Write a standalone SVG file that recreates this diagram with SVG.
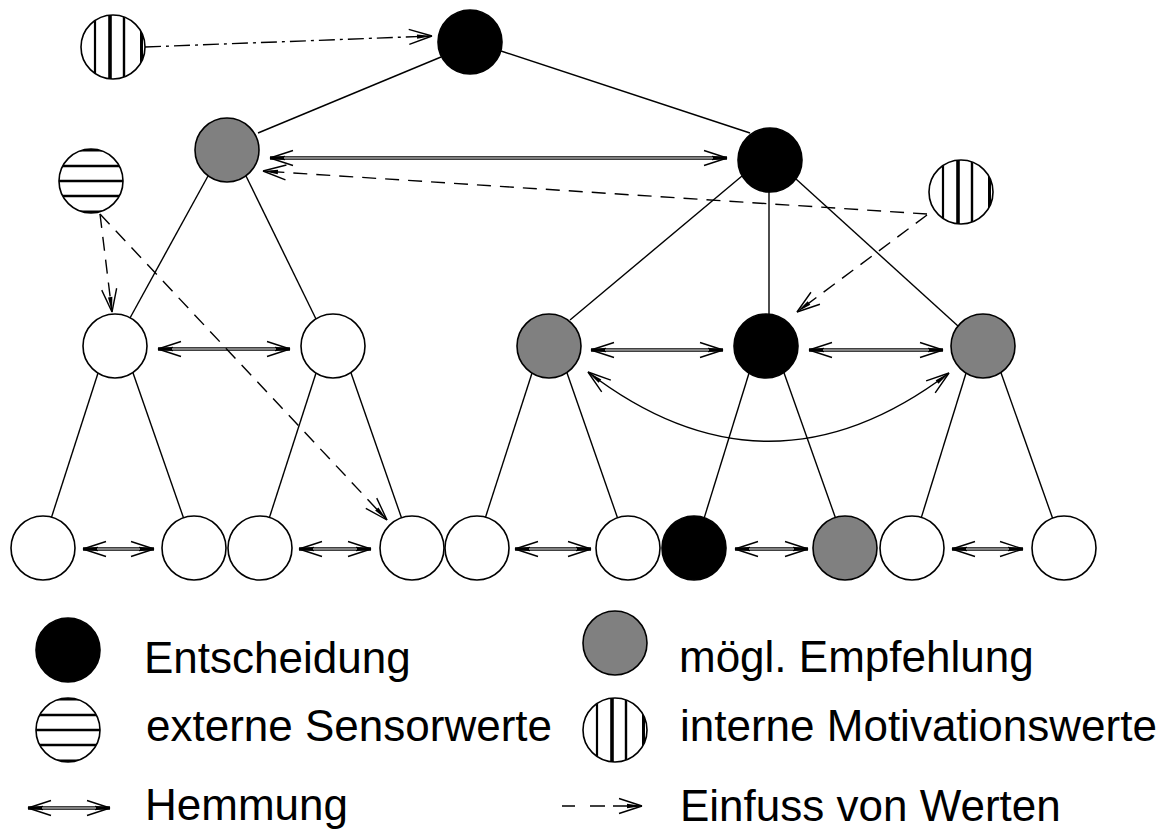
<svg xmlns="http://www.w3.org/2000/svg" xmlns:xlink="http://www.w3.org/1999/xlink" width="1168" height="832" viewBox="0 0 1168 832">
  <style>
    .edge{stroke:#000;stroke-width:1.4;fill:none}
    .node{stroke:#000;stroke-width:1.6}
    .white{fill:#fff}
    .black{fill:#000}
    .gray{fill:#808080}
    .inh{stroke:#000;stroke-width:3.4;fill:none}
    .core{stroke:#fff;stroke-width:1.2;fill:none}
    .curve{stroke:#000;stroke-width:1.5;fill:none}
    .flow{stroke:#000;stroke-width:1.4;fill:none;stroke-dasharray:14 9}
    .dashdot{stroke:#000;stroke-width:1.4;fill:none;stroke-dasharray:16 5 3 5}
    .lbl{font-family:"Liberation Sans",Arial,sans-serif;font-size:44px;fill:#000}
  </style>
  <defs>
    <!-- open arrowhead: two barbs plus a thin solid sliver at the tip -->
    <marker id="hd" markerUnits="userSpaceOnUse" orient="auto-start-reverse" refX="0" refY="0"
            viewBox="-26 -10 28 20" markerWidth="28" markerHeight="20" overflow="visible">
      <path d="M0,0 L-23,-7.5 M0,0 L-23,7.5" stroke="#000" stroke-width="1.4" fill="none"/>
      <path d="M0.5,0 L-15,-2.2 L-15,2.2 Z" fill="#000"/>
    </marker>
    <clipPath id="cc"><circle r="32"/></clipPath>
    <!-- value sources: vertical stripes = internal motivation, horizontal = external sensors -->
    <g id="vh">
      <circle r="32" fill="#fff"/>
      <g clip-path="url(#cc)" stroke="#000">
        <line x1="-18" y1="-40" x2="-18" y2="40" stroke-width="2.2"/>
        <line x1="-3" y1="-40" x2="-3" y2="40" stroke-width="3.6"/>
        <line x1="11" y1="-40" x2="11" y2="40" stroke-width="2.4"/>
        <line x1="28.5" y1="-40" x2="28.5" y2="40" stroke-width="3"/>
      </g>
      <circle r="32" fill="none" stroke="#000" stroke-width="1.6"/>
    </g>
    <g id="hh">
      <circle r="32" fill="#fff"/>
      <g clip-path="url(#cc)" stroke="#000">
        <line x1="-40" y1="-15" x2="40" y2="-15" stroke-width="2.6"/>
        <line x1="-40" y1="0" x2="40" y2="0" stroke-width="2.6"/>
        <line x1="-40" y1="15" x2="40" y2="15" stroke-width="2.6"/>
        <line x1="-40" y1="-31" x2="40" y2="-31" stroke-width="3"/>
        <line x1="-40" y1="31" x2="40" y2="31" stroke-width="3"/>
      </g>
      <circle r="32" fill="none" stroke="#000" stroke-width="1.6"/>
    </g>
  </defs>

  <rect width="1168" height="832" fill="#fff"/>

  <g id="connectors">
    <!-- tree edges -->
    <line class="edge" x1="441" y1="57" x2="258" y2="133"/>
    <line class="edge" x1="501" y1="51" x2="750" y2="133"/>
    <line class="edge" x1="208" y1="176" x2="130" y2="318"/>
    <line class="edge" x1="246" y1="176" x2="316" y2="319"/>
    <line class="edge" x1="742" y1="176" x2="570" y2="320"/>
    <line class="edge" x1="769" y1="180" x2="769" y2="330"/>
    <line class="edge" x1="796" y1="179" x2="958" y2="326"/>
    <line class="edge" x1="99" y1="370" x2="49" y2="525"/>
    <line class="edge" x1="132" y1="370" x2="186" y2="525"/>
    <line class="edge" x1="317" y1="370" x2="267" y2="525"/>
    <line class="edge" x1="350" y1="370" x2="404" y2="525"/>
    <line class="edge" x1="533" y1="370" x2="483" y2="525"/>
    <line class="edge" x1="566" y1="370" x2="620" y2="525"/>
    <line class="edge" x1="750" y1="370" x2="702" y2="525"/>
    <line class="edge" x1="783" y1="370" x2="838" y2="525"/>
    <line class="edge" x1="967" y1="370" x2="919" y2="525"/>
    <line class="edge" x1="1000" y1="370" x2="1055" y2="525"/>

    <!-- inhibition (double-headed) -->
    <g id="inhibition">
      <line class="inh" x1="270" y1="158" x2="727" y2="158" marker-start="url(#hd)" marker-end="url(#hd)"/>
      <line class="core" x1="284" y1="158" x2="713" y2="158"/>
      <line class="inh" x1="158" y1="349" x2="290" y2="349" marker-start="url(#hd)" marker-end="url(#hd)"/>
      <line class="core" x1="172" y1="349" x2="276" y2="349"/>
      <line class="inh" x1="591" y1="350" x2="723" y2="350" marker-start="url(#hd)" marker-end="url(#hd)"/>
      <line class="core" x1="605" y1="350" x2="709" y2="350"/>
      <line class="inh" x1="809" y1="350" x2="943" y2="350" marker-start="url(#hd)" marker-end="url(#hd)"/>
      <line class="core" x1="823" y1="350" x2="929" y2="350"/>
      <line class="inh" x1="83" y1="549" x2="154" y2="549" marker-start="url(#hd)" marker-end="url(#hd)"/>
      <line class="core" x1="97" y1="549" x2="140" y2="549"/>
      <line class="inh" x1="299" y1="549" x2="371" y2="549" marker-start="url(#hd)" marker-end="url(#hd)"/>
      <line class="core" x1="313" y1="549" x2="357" y2="549"/>
      <line class="inh" x1="515" y1="549" x2="591" y2="549" marker-start="url(#hd)" marker-end="url(#hd)"/>
      <line class="core" x1="529" y1="549" x2="577" y2="549"/>
      <line class="inh" x1="735" y1="549" x2="808" y2="549" marker-start="url(#hd)" marker-end="url(#hd)"/>
      <line class="core" x1="749" y1="549" x2="794" y2="549"/>
      <line class="inh" x1="952" y1="549" x2="1023" y2="549" marker-start="url(#hd)" marker-end="url(#hd)"/>
      <line class="core" x1="966" y1="549" x2="1009" y2="549"/>
      <path class="curve" d="M588,372 Q768,510 949,373" marker-start="url(#hd)" marker-end="url(#hd)"/>
    </g>

    <!-- influence of values (dashed) -->
    <g id="influence">
      <line class="dashdot" x1="145" y1="47" x2="432" y2="36" marker-end="url(#hd)"/>
      <line class="flow" x1="927" y1="214" x2="263" y2="171" marker-end="url(#hd)"/>
      <line class="flow" x1="927" y1="215" x2="797" y2="312" marker-end="url(#hd)"/>
      <line class="flow" x1="100" y1="214" x2="112" y2="312" marker-end="url(#hd)"/>
      <line class="flow" x1="100" y1="214" x2="387" y2="520" marker-end="url(#hd)"/>
    </g>
  </g>

  <!-- level 0 -->
  <g id="n-top"><circle class="node black" cx="470" cy="42" r="32"/></g>
  <!-- level 1 -->
  <g id="n-l1-left"><circle class="node gray" cx="227" cy="150" r="32"/></g>
  <g id="n-l1-right"><circle class="node black" cx="770" cy="160" r="32"/></g>
  <!-- level 2 -->
  <g id="n-l2-1"><circle class="node white" cx="115" cy="346" r="32"/></g>
  <g id="n-l2-2"><circle class="node white" cx="333" cy="346" r="32"/></g>
  <g id="n-l2-3"><circle class="node gray" cx="549" cy="346" r="32"/></g>
  <g id="n-l2-4"><circle class="node black" cx="766" cy="346" r="32"/></g>
  <g id="n-l2-5"><circle class="node gray" cx="983" cy="346" r="32"/></g>
  <!-- level 3 -->
  <g id="n-l3-1"><circle class="node white" cx="43" cy="548" r="32"/></g>
  <g id="n-l3-2"><circle class="node white" cx="194" cy="548" r="32"/></g>
  <g id="n-l3-3"><circle class="node white" cx="260" cy="548" r="32"/></g>
  <g id="n-l3-4"><circle class="node white" cx="412" cy="548" r="32"/></g>
  <g id="n-l3-5"><circle class="node white" cx="477" cy="548" r="32"/></g>
  <g id="n-l3-6"><circle class="node white" cx="628" cy="548" r="32"/></g>
  <g id="n-l3-7"><circle class="node black" cx="694" cy="548" r="32"/></g>
  <g id="n-l3-8"><circle class="node gray" cx="845" cy="548" r="32"/></g>
  <g id="n-l3-9"><circle class="node white" cx="912" cy="548" r="32"/></g>
  <g id="n-l3-10"><circle class="node white" cx="1064" cy="548" r="32"/></g>

  <!-- value sources -->
  <g id="src-motiv-top"><use xlink:href="#vh" href="#vh" x="113" y="47"/></g>
  <g id="src-sensor"><use xlink:href="#hh" href="#hh" x="91" y="181"/></g>
  <g id="src-motiv-right"><use xlink:href="#vh" href="#vh" x="961" y="192"/></g>

  <!-- legend -->
  <g id="legend">
    <circle class="node black" cx="68" cy="650" r="32"/>
    <text class="lbl" x="144" y="673">Entscheidung</text>
    <circle class="node gray" cx="615" cy="643" r="32"/>
    <text class="lbl" x="679" y="672">mögl. Empfehlung</text>
    <use xlink:href="#hh" href="#hh" x="68" y="730"/>
    <text class="lbl" x="146" y="741">externe Sensorwerte</text>
    <use xlink:href="#vh" href="#vh" x="615" y="730"/>
    <text class="lbl" x="680" y="741">interne Motivationswerte</text>
    <line class="inh" x1="28" y1="808" x2="110" y2="808" marker-start="url(#hd)" marker-end="url(#hd)"/>
    <line class="core" x1="42" y1="808" x2="96" y2="808"/>
    <text class="lbl" x="145" y="820">Hemmung</text>
    <path d="M562,806 H575 M590,806 H605" stroke="#000" stroke-width="1.4"/>
    <line x1="605" y1="806" x2="642" y2="806" stroke="#000" stroke-width="1.4" stroke-dasharray="0 8 30" marker-end="url(#hd)"/>
    <text class="lbl" x="680" y="821">Einfuss von Werten</text>
  </g>
</svg>
